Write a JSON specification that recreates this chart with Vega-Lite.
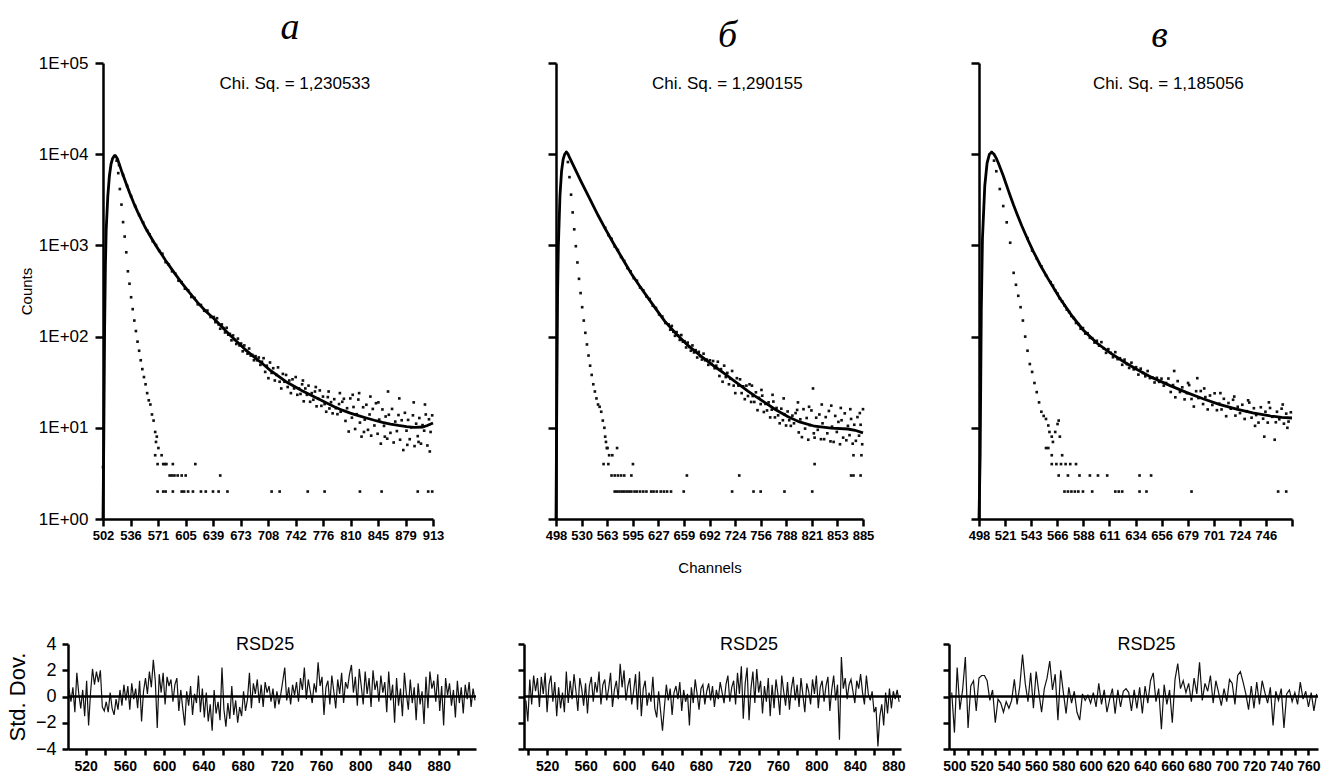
{
"$schema": "https://vega.github.io/schema/vega-lite/v6.json",
"padding": {"left": 6, "top": 9, "right": 0, "bottom": 0},
"background": "white",
"config": {
  "view": {"stroke": null},
  "axis": {"domainColor": "#000", "domainWidth": 2.5, "tickColor": "#000", "tickWidth": 2.5, "labelColor": "#000", "titleColor": "#000", "grid": false, "labelFont": "Liberation Sans", "titleFont": "Liberation Sans", "titleFontWeight": "normal", "labelFlush": false, "labelOverlap": false}
},
"datasets": {
"fa": [{"c":502,"v":1},{"c":503,"v":8},{"c":504,"v":120},{"c":505,"v":600},{"c":506,"v":1500},{"c":508,"v":3500},{"c":510,"v":5800},{"c":512,"v":7800},{"c":514,"v":9000},{"c":516,"v":9550},{"c":517,"v":9600},{"c":518,"v":9500},{"c":520,"v":8900},{"c":525,"v":6600},{"c":530,"v":5000},{"c":535,"v":3800},{"c":540,"v":2950},{"c":545,"v":2350},{"c":550,"v":1900},{"c":555,"v":1550},{"c":560,"v":1300},{"c":565,"v":1096},{"c":570,"v":933},{"c":580,"v":684},{"c":590,"v":513},{"c":600,"v":389},{"c":610,"v":301},{"c":620,"v":236},{"c":630,"v":190},{"c":640,"v":158},{"c":650,"v":128},{"c":660,"v":104},{"c":670,"v":86},{"c":680,"v":71},{"c":690,"v":60},{"c":700,"v":51},{"c":710,"v":43},{"c":720,"v":37},{"c":730,"v":32},{"c":740,"v":28.5},{"c":750,"v":25.5},{"c":760,"v":23},{"c":770,"v":20.8},{"c":780,"v":18.8},{"c":790,"v":17},{"c":800,"v":15.6},{"c":810,"v":14.5},{"c":820,"v":13.6},{"c":830,"v":12.8},{"c":840,"v":12.1},{"c":850,"v":11.5},{"c":860,"v":11},{"c":870,"v":10.6},{"c":880,"v":10.3},{"c":890,"v":10.1},{"c":900,"v":10.2},{"c":906,"v":10.6},{"c":913,"v":11.3}],
"da": [{"c":502,"v":3.7},{"c":522,"v":7600},{"c":527,"v":5900},{"c":532,"v":4500},{"c":537,"v":3450},{"c":542,"v":2700},{"c":547,"v":2150},{"c":552,"v":1780},{"c":557,"v":1450},{"c":560,"v":1320},{"c":564,"v":1110},{"c":568,"v":1010},{"c":572,"v":870},{"c":576,"v":810},{"c":580,"v":655},{"c":584,"v":615},{"c":588,"v":520},{"c":592,"v":490},{"c":596,"v":410},{"c":600,"v":395},{"c":604,"v":335},{"c":608,"v":322},{"c":612,"v":272},{"c":616,"v":265},{"c":620,"v":226},{"c":624,"v":222},{"c":628,"v":192},{"c":632,"v":193},{"c":636,"v":164},{"c":640,"v":164},{"c":642,"v":144},{"c":644,"v":159},{"c":646,"v":136},{"c":648,"v":122},{"c":650,"v":136},{"c":652,"v":124},{"c":654,"v":111},{"c":656,"v":125},{"c":658,"v":105},{"c":660,"v":107},{"c":662,"v":91},{"c":664,"v":103},{"c":666,"v":92},{"c":668,"v":83},{"c":670,"v":95},{"c":672,"v":80},{"c":674,"v":84},{"c":676,"v":69},{"c":678,"v":80},{"c":680,"v":71},{"c":682,"v":65},{"c":684,"v":74},{"c":686,"v":62},{"c":688,"v":63},{"c":690,"v":55},{"c":692,"v":61},{"c":694,"v":55},{"c":696,"v":59},{"c":698,"v":49},{"c":700,"v":53},{"c":702,"v":58},{"c":704,"v":41},{"c":706,"v":48},{"c":708,"v":35},{"c":710,"v":52},{"c":712,"v":40},{"c":714,"v":45},{"c":716,"v":33},{"c":718,"v":38},{"c":720,"v":46},{"c":722,"v":32},{"c":724,"v":27},{"c":726,"v":39},{"c":728,"v":32},{"c":730,"v":38},{"c":732,"v":28},{"c":734,"v":33},{"c":736,"v":24},{"c":738,"v":34},{"c":740,"v":27},{"c":742,"v":36},{"c":744,"v":23},{"c":746,"v":27},{"c":748,"v":23.5},{"c":750,"v":30},{"c":751,"v":33},{"c":752,"v":19.5},{"c":754,"v":27},{"c":756,"v":23},{"c":758,"v":29},{"c":760,"v":19.3},{"c":762,"v":24},{"c":764,"v":20.3},{"c":766,"v":25},{"c":767,"v":28},{"c":768,"v":17.2},{"c":770,"v":20.8},{"c":772,"v":25.7},{"c":774,"v":17.4},{"c":776,"v":22},{"c":778,"v":18.2},{"c":780,"v":15},{"c":782,"v":21.7},{"c":783,"v":25},{"c":784,"v":16.3},{"c":786,"v":19.1},{"c":788,"v":14.4},{"c":790,"v":20.6},{"c":792,"v":16.4},{"c":794,"v":14.1},{"c":796,"v":18.2},{"c":797,"v":24},{"c":798,"v":15},{"c":800,"v":19.3},{"c":802,"v":20.8},{"c":804,"v":11.9},{"c":806,"v":16.4},{"c":808,"v":9.1},{"c":810,"v":21},{"c":812,"v":12.9},{"c":813,"v":23},{"c":814,"v":16.9},{"c":816,"v":9.7},{"c":818,"v":14.1},{"c":820,"v":20.4},{"c":821,"v":24},{"c":822,"v":11.4},{"c":824,"v":8},{"c":826,"v":16.8},{"c":827,"v":9},{"c":828,"v":12.3},{"c":830,"v":17.9},{"c":832,"v":9.5},{"c":834,"v":14},{"c":835,"v":22},{"c":836,"v":8.2},{"c":838,"v":16.1},{"c":840,"v":10.6},{"c":842,"v":18.6},{"c":844,"v":8.6},{"c":845,"v":19},{"c":846,"v":12.3},{"c":848,"v":6.7},{"c":850,"v":15.9},{"c":852,"v":10.5},{"c":853,"v":8},{"c":854,"v":13.3},{"c":856,"v":7.6},{"c":857,"v":25},{"c":858,"v":13.9},{"c":860,"v":8.8},{"c":862,"v":16.1},{"c":864,"v":6.9},{"c":866,"v":11.7},{"c":868,"v":9.2},{"c":870,"v":13.8},{"c":871,"v":21},{"c":872,"v":7.4},{"c":874,"v":12.1},{"c":876,"v":5.7},{"c":878,"v":14.6},{"c":880,"v":9.3},{"c":881,"v":6.5},{"c":882,"v":12.2},{"c":884,"v":7.5},{"c":886,"v":10.1},{"c":888,"v":13.7},{"c":889,"v":19},{"c":890,"v":6.3},{"c":892,"v":11.1},{"c":894,"v":8.1},{"c":895,"v":7},{"c":896,"v":12.8},{"c":898,"v":6.7},{"c":900,"v":10.7},{"c":902,"v":9.3},{"c":903,"v":18},{"c":904,"v":14},{"c":906,"v":6.4},{"c":908,"v":12.4},{"c":909,"v":5.5},{"c":910,"v":9},{"c":912,"v":13.7}],
"ia": [{"c":517,"v":9600},{"c":519,"v":8500},{"c":521,"v":6200},{"c":523,"v":4150},{"c":525,"v":2800},{"c":527,"v":1800},{"c":529,"v":1250},{"c":531,"v":840},{"c":533,"v":520},{"c":535,"v":380},{"c":537,"v":270},{"c":539,"v":200},{"c":541,"v":150},{"c":543,"v":115},{"c":545,"v":88},{"c":547,"v":70},{"c":549,"v":55},{"c":551,"v":44},{"c":553,"v":36},{"c":555,"v":30},{"c":557,"v":24},{"c":559,"v":20},{"c":561,"v":18},{"c":563,"v":14},{"c":565,"v":12},{"c":567,"v":9},{"c":569,"v":8},{"c":568,"v":7},{"c":571,"v":6},{"c":567,"v":5},{"c":575,"v":5},{"c":570,"v":4},{"c":577,"v":4},{"c":579,"v":4},{"c":581,"v":4},{"c":589,"v":4},{"c":617,"v":4},{"c":585,"v":3},{"c":588,"v":3},{"c":591,"v":3},{"c":595,"v":3},{"c":600,"v":3},{"c":605,"v":3},{"c":648,"v":3},{"c":570,"v":2},{"c":577,"v":2},{"c":580,"v":2},{"c":589,"v":2},{"c":600,"v":2},{"c":603,"v":2},{"c":608,"v":2},{"c":614,"v":2},{"c":624,"v":2},{"c":630,"v":2},{"c":639,"v":2},{"c":646,"v":2},{"c":657,"v":2},{"c":712,"v":2},{"c":722,"v":2},{"c":757,"v":2},{"c":778,"v":2},{"c":822,"v":2},{"c":849,"v":2},{"c":894,"v":2},{"c":907,"v":2},{"c":912,"v":2}],
"fb": [{"c":498,"v":1},{"c":499,"v":20},{"c":500,"v":300},{"c":501,"v":1000},{"c":503,"v":3500},{"c":505,"v":6500},{"c":507,"v":8800},{"c":509,"v":10000},{"c":511,"v":10500},{"c":513,"v":10100},{"c":515,"v":9230},{"c":520,"v":7500},{"c":525,"v":6100},{"c":530,"v":4950},{"c":540,"v":3310},{"c":551,"v":2140},{"c":560,"v":1530},{"c":570,"v":1070},{"c":580,"v":760},{"c":593,"v":490},{"c":603,"v":363},{"c":614,"v":266},{"c":625,"v":195},{"c":635,"v":148},{"c":650,"v":106},{"c":664,"v":80.5},{"c":680,"v":62},{"c":698,"v":47},{"c":710,"v":39.5},{"c":723,"v":32.5},{"c":740,"v":25.3},{"c":750,"v":22},{"c":761,"v":19},{"c":775,"v":15.8},{"c":790,"v":13.3},{"c":805,"v":11.6},{"c":824,"v":10.4},{"c":845,"v":9.9},{"c":866,"v":9.7},{"c":875,"v":9.4},{"c":885,"v":8.8}],
"db": [{"c":560,"v":1560},{"c":564,"v":1300},{"c":568,"v":1180},{"c":572,"v":975},{"c":576,"v":890},{"c":580,"v":745},{"c":584,"v":675},{"c":588,"v":565},{"c":592,"v":520},{"c":596,"v":438},{"c":600,"v":410},{"c":604,"v":345},{"c":608,"v":322},{"c":612,"v":276},{"c":616,"v":258},{"c":620,"v":218},{"c":624,"v":206},{"c":628,"v":175},{"c":632,"v":166},{"c":636,"v":141},{"c":640,"v":136},{"c":642,"v":119},{"c":644,"v":131},{"c":646,"v":113},{"c":648,"v":102},{"c":650,"v":112},{"c":652,"v":103},{"c":654,"v":92},{"c":656,"v":104},{"c":658,"v":88},{"c":660,"v":89},{"c":662,"v":76},{"c":664,"v":86},{"c":666,"v":77},{"c":668,"v":70},{"c":670,"v":80},{"c":672,"v":67},{"c":674,"v":71},{"c":676,"v":59},{"c":678,"v":68},{"c":680,"v":61},{"c":682,"v":56},{"c":684,"v":65},{"c":686,"v":55},{"c":688,"v":56},{"c":690,"v":49},{"c":692,"v":55},{"c":694,"v":50},{"c":696,"v":54},{"c":698,"v":45},{"c":700,"v":48},{"c":702,"v":53},{"c":704,"v":37},{"c":706,"v":44},{"c":708,"v":32},{"c":710,"v":48},{"c":712,"v":36},{"c":714,"v":40},{"c":716,"v":30},{"c":718,"v":34.5},{"c":720,"v":42},{"c":722,"v":29},{"c":724,"v":24},{"c":726,"v":35},{"c":728,"v":29},{"c":730,"v":34},{"c":732,"v":24},{"c":734,"v":28.5},{"c":736,"v":20.6},{"c":738,"v":29},{"c":740,"v":22.3},{"c":742,"v":30},{"c":744,"v":19.2},{"c":745,"v":29},{"c":746,"v":22.3},{"c":748,"v":19.2},{"c":750,"v":24.5},{"c":752,"v":15.6},{"c":754,"v":21.3},{"c":756,"v":18.2},{"c":757,"v":26},{"c":758,"v":22.5},{"c":760,"v":14.9},{"c":762,"v":18.3},{"c":764,"v":15.5},{"c":766,"v":19},{"c":768,"v":13},{"c":770,"v":15.8},{"c":771,"v":23},{"c":772,"v":19.4},{"c":774,"v":13},{"c":776,"v":16.5},{"c":778,"v":13.7},{"c":780,"v":11.2},{"c":782,"v":16.2},{"c":784,"v":12.1},{"c":785,"v":21},{"c":786,"v":14.1},{"c":788,"v":10.6},{"c":790,"v":15.1},{"c":792,"v":12.1},{"c":794,"v":10.5},{"c":796,"v":13.6},{"c":798,"v":11.2},{"c":800,"v":14.5},{"c":802,"v":15.7},{"c":803,"v":19},{"c":804,"v":8.9},{"c":806,"v":12.4},{"c":808,"v":7.9},{"c":810,"v":16},{"c":812,"v":9.8},{"c":814,"v":12.8},{"c":816,"v":7.4},{"c":817,"v":17},{"c":818,"v":10.7},{"c":820,"v":15.5},{"c":822,"v":27},{"c":823,"v":8.7},{"c":824,"v":7.8},{"c":826,"v":12.9},{"c":828,"v":9.5},{"c":830,"v":14},{"c":832,"v":7.5},{"c":833,"v":18},{"c":834,"v":11.2},{"c":836,"v":7.5},{"c":838,"v":13.1},{"c":840,"v":8.7},{"c":842,"v":15.3},{"c":844,"v":7.1},{"c":845,"v":17.5},{"c":846,"v":10.3},{"c":848,"v":7},{"c":850,"v":13.5},{"c":852,"v":9},{"c":854,"v":11.6},{"c":856,"v":6.6},{"c":857,"v":16.5},{"c":858,"v":12.1},{"c":860,"v":7.8},{"c":862,"v":14.4},{"c":864,"v":7.3},{"c":866,"v":10.5},{"c":868,"v":8.3},{"c":869,"v":16},{"c":870,"v":12.5},{"c":872,"v":6.7},{"c":874,"v":10.8},{"c":876,"v":7.2},{"c":878,"v":13.1},{"c":880,"v":8.2},{"c":881,"v":14.5},{"c":882,"v":10.8},{"c":884,"v":6.6},{"c":885,"v":16}],
"ib": [{"c":511,"v":10500},{"c":513,"v":8200},{"c":515,"v":5600},{"c":517,"v":3600},{"c":519,"v":2300},{"c":521,"v":1500},{"c":523,"v":980},{"c":525,"v":650},{"c":527,"v":430},{"c":529,"v":300},{"c":531,"v":210},{"c":533,"v":150},{"c":535,"v":110},{"c":537,"v":82},{"c":539,"v":62},{"c":541,"v":48},{"c":543,"v":38},{"c":545,"v":30},{"c":547,"v":25},{"c":549,"v":21},{"c":551,"v":18},{"c":553,"v":17},{"c":555,"v":15},{"c":557,"v":12},{"c":559,"v":10},{"c":560,"v":8},{"c":561,"v":7},{"c":562,"v":6},{"c":563,"v":6},{"c":575,"v":6},{"c":565,"v":5},{"c":569,"v":5},{"c":558,"v":4},{"c":564,"v":4},{"c":595,"v":4},{"c":824,"v":4},{"c":568,"v":3},{"c":572,"v":3},{"c":576,"v":3},{"c":580,"v":3},{"c":584,"v":3},{"c":593,"v":3},{"c":663,"v":3},{"c":729,"v":3},{"c":870,"v":3},{"c":873,"v":3},{"c":882,"v":3},{"c":873,"v":5},{"c":883,"v":5},{"c":572,"v":2},{"c":575,"v":2},{"c":578,"v":2},{"c":581,"v":2},{"c":584,"v":2},{"c":587,"v":2},{"c":590,"v":2},{"c":593,"v":2},{"c":597,"v":2},{"c":600,"v":2},{"c":604,"v":2},{"c":608,"v":2},{"c":612,"v":2},{"c":618,"v":2},{"c":621,"v":2},{"c":625,"v":2},{"c":630,"v":2},{"c":634,"v":2},{"c":638,"v":2},{"c":643,"v":2},{"c":659,"v":2},{"c":720,"v":2},{"c":747,"v":2},{"c":756,"v":2},{"c":786,"v":2},{"c":821,"v":2}],
"fc": [{"c":498,"v":1},{"c":499,"v":5},{"c":500,"v":200},{"c":501,"v":1200},{"c":503,"v":4500},{"c":505,"v":8000},{"c":507,"v":10000},{"c":509,"v":10500},{"c":511,"v":10000},{"c":513,"v":9020},{"c":515,"v":7850},{"c":517,"v":6760},{"c":519,"v":5790},{"c":521,"v":4900},{"c":523,"v":4140},{"c":525,"v":3510},{"c":528,"v":2750},{"c":531,"v":2190},{"c":535,"v":1640},{"c":540,"v":1175},{"c":545,"v":861},{"c":551,"v":610},{"c":558,"v":427},{"c":568,"v":263},{"c":578,"v":172},{"c":588,"v":119},{"c":600,"v":85},{"c":611,"v":67},{"c":622,"v":54.3},{"c":634,"v":44.2},{"c":648,"v":35.5},{"c":663,"v":29.2},{"c":678,"v":24.3},{"c":692,"v":20.8},{"c":706,"v":18.1},{"c":721,"v":16},{"c":735,"v":14.6},{"c":750,"v":13.5},{"c":760,"v":13},{"c":769,"v":12.8}],
"dc": [{"c":540,"v":1200},{"c":544,"v":880},{"c":548,"v":720},{"c":552,"v":590},{"c":556,"v":470},{"c":560,"v":395},{"c":562,"v":362},{"c":564,"v":320},{"c":566,"v":296},{"c":568,"v":262},{"c":570,"v":244},{"c":572,"v":220},{"c":574,"v":198},{"c":576,"v":186},{"c":578,"v":168},{"c":580,"v":160},{"c":582,"v":141},{"c":584,"v":137},{"c":586,"v":122},{"c":588,"v":124},{"c":590,"v":108},{"c":592,"v":109},{"c":594,"v":97},{"c":596,"v":96},{"c":598,"v":86},{"c":600,"v":90},{"c":602,"v":79.5},{"c":604,"v":86.9},{"c":606,"v":74.3},{"c":608,"v":66.4},{"c":610,"v":72.8},{"c":612,"v":66.4},{"c":614,"v":59.4},{"c":616,"v":67.5},{"c":618,"v":56.6},{"c":620,"v":57.9},{"c":622,"v":49.1},{"c":624,"v":55.9},{"c":626,"v":49.9},{"c":628,"v":45.3},{"c":630,"v":51.8},{"c":632,"v":43.7},{"c":634,"v":46.2},{"c":636,"v":38.3},{"c":638,"v":44.5},{"c":640,"v":39.9},{"c":642,"v":36.7},{"c":644,"v":41.9},{"c":646,"v":35.1},{"c":648,"v":35.7},{"c":650,"v":31.4},{"c":652,"v":35.3},{"c":654,"v":31.9},{"c":656,"v":34.6},{"c":658,"v":29},{"c":660,"v":31},{"c":662,"v":34.7},{"c":664,"v":24.7},{"c":666,"v":29.4},{"c":667,"v":42},{"c":668,"v":21.6},{"c":670,"v":32.5},{"c":672,"v":24.7},{"c":674,"v":27.8},{"c":676,"v":20.5},{"c":678,"v":24},{"c":679,"v":31},{"c":680,"v":29.4},{"c":682,"v":20.7},{"c":684,"v":17.1},{"c":686,"v":25.2},{"c":687,"v":35},{"c":688,"v":21.2},{"c":690,"v":25.3},{"c":692,"v":18.2},{"c":693,"v":27},{"c":694,"v":21.7},{"c":696,"v":15.9},{"c":698,"v":22.6},{"c":700,"v":17.8},{"c":702,"v":23.9},{"c":704,"v":15.6},{"c":706,"v":18.4},{"c":707,"v":24},{"c":708,"v":15.9},{"c":710,"v":20.8},{"c":712,"v":13.4},{"c":714,"v":18.7},{"c":716,"v":16.2},{"c":718,"v":20.3},{"c":719,"v":22},{"c":720,"v":13.6},{"c":722,"v":17},{"c":724,"v":14.5},{"c":726,"v":17.9},{"c":728,"v":12.5},{"c":730,"v":15.2},{"c":731,"v":20},{"c":732,"v":18.9},{"c":734,"v":12.9},{"c":736,"v":16.4},{"c":737,"v":10.5},{"c":738,"v":13.8},{"c":740,"v":11.4},{"c":742,"v":16.8},{"c":744,"v":12.6},{"c":745,"v":8},{"c":746,"v":15},{"c":748,"v":11.4},{"c":749,"v":19},{"c":750,"v":16.5},{"c":752,"v":13.2},{"c":754,"v":7.4},{"c":755,"v":11.5},{"c":756,"v":15},{"c":758,"v":12.4},{"c":760,"v":16.2},{"c":761,"v":18},{"c":762,"v":11.1},{"c":764,"v":14.3},{"c":765,"v":10},{"c":766,"v":11.7},{"c":768,"v":14.8}],
"ic": [{"c":509,"v":10500},{"c":511,"v":8500},{"c":513,"v":6500},{"c":516,"v":4150},{"c":519,"v":2700},{"c":522,"v":1790},{"c":525,"v":1070},{"c":528,"v":500},{"c":530,"v":370},{"c":532,"v":280},{"c":534,"v":210},{"c":536,"v":150},{"c":538,"v":100},{"c":540,"v":70},{"c":542,"v":50},{"c":544,"v":41},{"c":546,"v":31},{"c":548,"v":24.6},{"c":550,"v":19},{"c":552,"v":15},{"c":554,"v":13.5},{"c":556,"v":12.5},{"c":558,"v":10.6},{"c":559,"v":9},{"c":561,"v":8},{"c":562,"v":7},{"c":564,"v":9},{"c":566,"v":11},{"c":567,"v":12},{"c":568,"v":8},{"c":556,"v":6},{"c":558,"v":6},{"c":561,"v":5},{"c":570,"v":5},{"c":561,"v":4},{"c":565,"v":4},{"c":569,"v":4},{"c":573,"v":4},{"c":577,"v":4},{"c":582,"v":4},{"c":567,"v":3},{"c":575,"v":3},{"c":585,"v":3},{"c":594,"v":3},{"c":601,"v":3},{"c":609,"v":3},{"c":637,"v":3},{"c":647,"v":3},{"c":572,"v":2},{"c":575,"v":2},{"c":578,"v":2},{"c":581,"v":2},{"c":584,"v":2},{"c":588,"v":2},{"c":596,"v":2},{"c":616,"v":2},{"c":619,"v":2},{"c":622,"v":2},{"c":637,"v":2},{"c":643,"v":2},{"c":682,"v":2},{"c":757,"v":2},{"c":764,"v":2}],
"ra": [{"c":503,"r":0.6},{"c":505,"r":-0.4},{"c":507,"r":0.7},{"c":509,"r":-1.2},{"c":511,"r":1.8},{"c":513,"r":0.2},{"c":515,"r":-0.9},{"c":517,"r":0.5},{"c":519,"r":-1.5},{"c":521,"r":1.2},{"c":523,"r":-2.2},{"c":525,"r":0.3},{"c":527,"r":2.1},{"c":529,"r":0.9},{"c":531,"r":1.9},{"c":533,"r":1.1},{"c":535,"r":2.0},{"c":537,"r":-0.8},{"c":539,"r":-1.1},{"c":541,"r":-0.4},{"c":543,"r":-1.2},{"c":545,"r":0.3},{"c":547,"r":-0.9},{"c":549,"r":-1.4},{"c":551,"r":-0.2},{"c":553,"r":-1.0},{"c":555,"r":0.5},{"c":557,"r":-0.7},{"c":559,"r":0.9},{"c":561,"r":-0.3},{"c":563,"r":0.8},{"c":565,"r":-1.0},{"c":567,"r":1.0},{"c":569,"r":-0.2},{"c":571,"r":0.6},{"c":573,"r":-0.9},{"c":575,"r":1.2},{"c":577,"r":-1.9},{"c":579,"r":0.4},{"c":581,"r":1.4},{"c":583,"r":0.2},{"c":585,"r":1.9},{"c":587,"r":0.7},{"c":589,"r":2.8},{"c":591,"r":1.2},{"c":593,"r":-2.4},{"c":595,"r":1.7},{"c":597,"r":0.3},{"c":599,"r":1.8},{"c":601,"r":-0.6},{"c":603,"r":1.5},{"c":605,"r":0.8},{"c":607,"r":1.3},{"c":609,"r":-0.4},{"c":611,"r":0.9},{"c":613,"r":1.4},{"c":615,"r":-1.1},{"c":617,"r":0.5},{"c":619,"r":-0.9},{"c":621,"r":-2.2},{"c":623,"r":0.4},{"c":625,"r":-0.7},{"c":627,"r":0.8},{"c":629,"r":-1.4},{"c":631,"r":0.2},{"c":633,"r":-0.5},{"c":635,"r":1.6},{"c":637,"r":-1.2},{"c":639,"r":0.6},{"c":641,"r":-1.6},{"c":643,"r":0.3},{"c":645,"r":-1.9},{"c":647,"r":-0.6},{"c":649,"r":-2.6},{"c":651,"r":0.5},{"c":653,"r":-1.3},{"c":655,"r":-0.4},{"c":657,"r":-1.8},{"c":659,"r":2.2},{"c":661,"r":-1.0},{"c":663,"r":-2.3},{"c":665,"r":-0.5},{"c":667,"r":-1.7},{"c":669,"r":0.8},{"c":671,"r":-1.4},{"c":673,"r":-0.3},{"c":675,"r":-2.0},{"c":677,"r":-0.8},{"c":679,"r":-1.5},{"c":681,"r":0.4},{"c":683,"r":-1.1},{"c":685,"r":-0.2},{"c":687,"r":1.8},{"c":689,"r":-0.9},{"c":691,"r":1.0},{"c":693,"r":0.2},{"c":695,"r":1.3},{"c":697,"r":-0.5},{"c":699,"r":0.9},{"c":701,"r":-0.8},{"c":703,"r":1.1},{"c":705,"r":0.3},{"c":707,"r":0.8},{"c":709,"r":-0.4},{"c":711,"r":0.6},{"c":713,"r":-0.9},{"c":715,"r":0.4},{"c":717,"r":-0.6},{"c":719,"r":0.2},{"c":721,"r":1.2},{"c":723,"r":2.2},{"c":725,"r":-0.3},{"c":727,"r":0.7},{"c":729,"r":-0.6},{"c":731,"r":0.9},{"c":733,"r":0.1},{"c":735,"r":1.1},{"c":737,"r":-0.4},{"c":739,"r":1.4},{"c":741,"r":0.5},{"c":743,"r":2.2},{"c":745,"r":-0.2},{"c":747,"r":1.3},{"c":749,"r":0.4},{"c":751,"r":-0.5},{"c":753,"r":1.0},{"c":755,"r":0.3},{"c":757,"r":2.6},{"c":759,"r":0.8},{"c":761,"r":1.5},{"c":763,"r":-1.4},{"c":765,"r":0.7},{"c":767,"r":1.2},{"c":769,"r":-0.6},{"c":771,"r":1.6},{"c":773,"r":0.4},{"c":775,"r":-0.9},{"c":777,"r":1.3},{"c":779,"r":0.2},{"c":781,"r":1.8},{"c":783,"r":-0.5},{"c":785,"r":1.1},{"c":787,"r":0.6},{"c":789,"r":1.7},{"c":791,"r":2.4},{"c":793,"r":0.3},{"c":795,"r":1.5},{"c":797,"r":-0.7},{"c":799,"r":2.1},{"c":801,"r":0.8},{"c":803,"r":-0.6},{"c":805,"r":1.9},{"c":807,"r":0.2},{"c":809,"r":1.4},{"c":811,"r":-0.8},{"c":813,"r":2.0},{"c":815,"r":0.5},{"c":817,"r":1.2},{"c":819,"r":-0.4},{"c":821,"r":1.6},{"c":823,"r":0.3},{"c":825,"r":1.1},{"c":827,"r":-1.2},{"c":829,"r":1.9},{"c":831,"r":-0.3},{"c":833,"r":0.9},{"c":835,"r":-2.0},{"c":837,"r":1.4},{"c":839,"r":-0.7},{"c":841,"r":0.6},{"c":843,"r":-1.5},{"c":845,"r":1.8},{"c":847,"r":0.2},{"c":849,"r":-1.0},{"c":851,"r":1.3},{"c":853,"r":-0.5},{"c":855,"r":0.7},{"c":857,"r":-1.8},{"c":859,"r":1.0},{"c":861,"r":-0.6},{"c":863,"r":0.4},{"c":865,"r":-2.1},{"c":867,"r":1.5},{"c":869,"r":-0.9},{"c":871,"r":1.9},{"c":873,"r":0.6},{"c":875,"r":1.2},{"c":877,"r":-0.4},{"c":879,"r":1.7},{"c":881,"r":-1.1},{"c":883,"r":0.8},{"c":885,"r":-2.2},{"c":887,"r":1.4},{"c":889,"r":0.1},{"c":891,"r":1.0},{"c":893,"r":-0.7},{"c":895,"r":0.5},{"c":897,"r":-1.6},{"c":899,"r":1.2},{"c":901,"r":-0.5},{"c":903,"r":0.7},{"c":905,"r":-1.3},{"c":907,"r":0.9},{"c":909,"r":-0.2},{"c":911,"r":1.1},{"c":913,"r":-0.8},{"c":915,"r":0.6},{"c":917,"r":-0.3}],
"rb": [{"c":498,"r":-0.3},{"c":500,"r":-1.9},{"c":502,"r":1.3},{"c":504,"r":-0.6},{"c":506,"r":1.6},{"c":508,"r":0.4},{"c":510,"r":1.4},{"c":512,"r":-0.8},{"c":514,"r":1.5},{"c":516,"r":0.2},{"c":518,"r":1.8},{"c":520,"r":-1.2},{"c":522,"r":0.9},{"c":524,"r":1.6},{"c":526,"r":-0.4},{"c":528,"r":1.1},{"c":530,"r":-1.5},{"c":532,"r":0.7},{"c":534,"r":-0.9},{"c":536,"r":0.3},{"c":538,"r":-1.2},{"c":540,"r":1.9},{"c":542,"r":-0.5},{"c":544,"r":1.2},{"c":546,"r":-0.2},{"c":548,"r":1.7},{"c":550,"r":0.4},{"c":552,"r":-1.1},{"c":554,"r":1.4},{"c":556,"r":0.6},{"c":558,"r":-0.7},{"c":560,"r":1.0},{"c":562,"r":-1.3},{"c":564,"r":0.8},{"c":566,"r":1.5},{"c":568,"r":-0.4},{"c":570,"r":1.1},{"c":572,"r":0.3},{"c":574,"r":1.9},{"c":576,"r":-0.6},{"c":578,"r":0.9},{"c":580,"r":1.3},{"c":582,"r":-0.3},{"c":584,"r":0.6},{"c":586,"r":1.8},{"c":588,"r":-0.8},{"c":590,"r":0.5},{"c":592,"r":1.2},{"c":594,"r":-0.2},{"c":596,"r":2.5},{"c":598,"r":0.7},{"c":600,"r":2.0},{"c":602,"r":-0.3},{"c":604,"r":0.8},{"c":606,"r":1.4},{"c":608,"r":-0.6},{"c":610,"r":0.4},{"c":612,"r":1.7},{"c":614,"r":-1.0},{"c":616,"r":1.9},{"c":618,"r":-1.5},{"c":620,"r":0.6},{"c":622,"r":1.2},{"c":624,"r":-0.7},{"c":626,"r":0.3},{"c":628,"r":-0.4},{"c":630,"r":1.5},{"c":632,"r":-0.9},{"c":634,"r":-1.6},{"c":636,"r":0.4},{"c":638,"r":-1.1},{"c":640,"r":-2.6},{"c":642,"r":-0.8},{"c":644,"r":0.9},{"c":646,"r":-0.3},{"c":648,"r":0.6},{"c":650,"r":-1.4},{"c":652,"r":0.3},{"c":654,"r":0.8},{"c":656,"r":-0.2},{"c":658,"r":1.1},{"c":660,"r":-1.1},{"c":662,"r":0.5},{"c":664,"r":-0.4},{"c":666,"r":0.2},{"c":668,"r":-2.2},{"c":670,"r":0.7},{"c":672,"r":-0.5},{"c":674,"r":1.3},{"c":676,"r":0.2},{"c":678,"r":-1.0},{"c":680,"r":0.6},{"c":682,"r":0.9},{"c":684,"r":-0.6},{"c":686,"r":0.4},{"c":688,"r":1.0},{"c":690,"r":-0.3},{"c":692,"r":0.8},{"c":694,"r":-0.8},{"c":696,"r":0.5},{"c":698,"r":-0.2},{"c":700,"r":1.1},{"c":702,"r":0.3},{"c":704,"r":-0.5},{"c":706,"r":0.9},{"c":708,"r":1.6},{"c":710,"r":-0.4},{"c":712,"r":0.7},{"c":714,"r":1.2},{"c":716,"r":-0.6},{"c":718,"r":1.8},{"c":720,"r":0.2},{"c":722,"r":2.3},{"c":724,"r":-1.7},{"c":726,"r":1.0},{"c":728,"r":2.2},{"c":730,"r":-1.8},{"c":732,"r":0.6},{"c":734,"r":1.9},{"c":736,"r":-0.5},{"c":738,"r":2.1},{"c":740,"r":0.3},{"c":742,"r":1.2},{"c":744,"r":-1.3},{"c":746,"r":0.8},{"c":748,"r":-0.4},{"c":750,"r":1.4},{"c":752,"r":-1.5},{"c":754,"r":0.9},{"c":756,"r":-0.9},{"c":758,"r":1.3},{"c":760,"r":0.2},{"c":762,"r":-1.4},{"c":764,"r":1.6},{"c":766,"r":0.4},{"c":768,"r":-0.7},{"c":770,"r":1.1},{"c":772,"r":-1.0},{"c":774,"r":0.6},{"c":776,"r":1.5},{"c":778,"r":-0.3},{"c":780,"r":0.9},{"c":782,"r":-0.8},{"c":784,"r":1.4},{"c":786,"r":0.1},{"c":788,"r":-1.2},{"c":790,"r":1.0},{"c":792,"r":0.4},{"c":794,"r":-0.6},{"c":796,"r":1.3},{"c":798,"r":0.2},{"c":800,"r":1.6},{"c":802,"r":-0.9},{"c":804,"r":0.7},{"c":806,"r":1.2},{"c":808,"r":-0.4},{"c":810,"r":0.8},{"c":812,"r":1.5},{"c":814,"r":-1.1},{"c":816,"r":0.5},{"c":818,"r":1.6},{"c":820,"r":-0.3},{"c":822,"r":0.9},{"c":824,"r":-3.3},{"c":826,"r":3.0},{"c":828,"r":0.6},{"c":830,"r":1.4},{"c":832,"r":-0.2},{"c":834,"r":0.9},{"c":836,"r":1.3},{"c":838,"r":0.4},{"c":840,"r":-0.5},{"c":842,"r":1.2},{"c":844,"r":0.6},{"c":846,"r":1.7},{"c":848,"r":0.3},{"c":850,"r":-0.6},{"c":852,"r":1.6},{"c":854,"r":0.2},{"c":856,"r":-0.3},{"c":858,"r":0.4},{"c":860,"r":-1.2},{"c":862,"r":-0.8},{"c":864,"r":-3.8},{"c":866,"r":-1.5},{"c":868,"r":-0.6},{"c":870,"r":-2.2},{"c":872,"r":0.3},{"c":874,"r":-1.3},{"c":876,"r":0.6},{"c":878,"r":-0.9},{"c":880,"r":0.4},{"c":882,"r":-0.2},{"c":884,"r":0.5},{"c":886,"r":-0.4}],
"rc": [{"c":498,"r":0.3},{"c":500,"r":-2.75},{"c":502,"r":2.2},{"c":504,"r":-1.0},{"c":506,"r":0.5},{"c":508,"r":3.0},{"c":510,"r":-2.4},{"c":512,"r":0.8},{"c":514,"r":1.2},{"c":516,"r":-1.1},{"c":518,"r":1.4},{"c":520,"r":1.6},{"c":522,"r":1.6},{"c":524,"r":1.2},{"c":526,"r":-0.3},{"c":528,"r":0.5},{"c":530,"r":-2.0},{"c":532,"r":-0.2},{"c":534,"r":-0.5},{"c":536,"r":-1.2},{"c":538,"r":-0.4},{"c":540,"r":-0.9},{"c":542,"r":-0.3},{"c":544,"r":1.3},{"c":546,"r":-0.6},{"c":548,"r":0.8},{"c":550,"r":3.2},{"c":552,"r":1.0},{"c":554,"r":-0.4},{"c":556,"r":1.8},{"c":558,"r":-0.9},{"c":560,"r":1.9},{"c":562,"r":0.3},{"c":564,"r":-1.2},{"c":566,"r":0.6},{"c":568,"r":1.4},{"c":570,"r":2.7},{"c":572,"r":0.5},{"c":574,"r":1.7},{"c":576,"r":-1.8},{"c":578,"r":2.0},{"c":580,"r":0.3},{"c":582,"r":-1.3},{"c":584,"r":0.7},{"c":586,"r":-0.5},{"c":588,"r":0.4},{"c":590,"r":-1.2},{"c":592,"r":-1.8},{"c":594,"r":0.2},{"c":596,"r":-0.3},{"c":598,"r":0.1},{"c":600,"r":-0.5},{"c":602,"r":0.3},{"c":604,"r":-0.8},{"c":606,"r":1.0},{"c":608,"r":-0.6},{"c":610,"r":0.5},{"c":612,"r":-1.2},{"c":614,"r":-0.2},{"c":616,"r":0.6},{"c":618,"r":-1.3},{"c":620,"r":0.5},{"c":622,"r":-0.8},{"c":624,"r":0.4},{"c":626,"r":0.6},{"c":628,"r":0.3},{"c":630,"r":-1.1},{"c":632,"r":0.5},{"c":634,"r":-0.9},{"c":636,"r":0.7},{"c":638,"r":-1.3},{"c":640,"r":0.8},{"c":642,"r":-0.5},{"c":644,"r":1.2},{"c":646,"r":1.8},{"c":648,"r":-0.4},{"c":650,"r":0.6},{"c":652,"r":-2.5},{"c":654,"r":0.9},{"c":656,"r":-0.6},{"c":658,"r":0.5},{"c":660,"r":-2.0},{"c":662,"r":1.3},{"c":664,"r":2.5},{"c":666,"r":0.6},{"c":668,"r":1.2},{"c":670,"r":0.3},{"c":672,"r":1.0},{"c":674,"r":-0.4},{"c":676,"r":1.4},{"c":678,"r":0.2},{"c":680,"r":2.6},{"c":682,"r":-0.3},{"c":684,"r":1.0},{"c":686,"r":0.4},{"c":688,"r":1.6},{"c":690,"r":-0.5},{"c":692,"r":1.2},{"c":694,"r":0.3},{"c":696,"r":-0.7},{"c":698,"r":0.6},{"c":700,"r":-0.4},{"c":702,"r":1.3},{"c":704,"r":1.0},{"c":706,"r":-0.6},{"c":708,"r":1.6},{"c":710,"r":1.9},{"c":712,"r":1.1},{"c":714,"r":0.2},{"c":716,"r":-1.0},{"c":718,"r":0.8},{"c":720,"r":-0.9},{"c":722,"r":1.1},{"c":724,"r":-0.6},{"c":726,"r":1.2},{"c":728,"r":0.3},{"c":730,"r":-0.5},{"c":732,"r":0.7},{"c":734,"r":-2.2},{"c":736,"r":0.4},{"c":738,"r":-0.3},{"c":740,"r":0.6},{"c":742,"r":-2.4},{"c":744,"r":0.2},{"c":746,"r":0.5},{"c":748,"r":-0.4},{"c":750,"r":0.3},{"c":752,"r":-0.6},{"c":754,"r":1.1},{"c":756,"r":-0.2},{"c":758,"r":0.4},{"c":760,"r":-0.8},{"c":762,"r":0.3},{"c":764,"r":-1.1},{"c":766,"r":0.2}]
},
"spacing": 60,
"vconcat": [
 {"bounds": "flush", "spacing": 34, "hconcat": [
   {"width": 1, "height": 456, "data": {"values": [{"c": 0}]}, "mark": {"type": "point", "opacity": 0}, "encoding": {}},
   {"bounds": "flush", "spacing": 123, "hconcat": [
     {"width": 330, "height": 456,
      "title": {"text": "а", "font": "Liberation Serif", "fontStyle": "italic", "fontWeight": "normal", "fontSize": 38, "color": "#000", "dx": 22, "offset": 7},
      "encoding": {
        "x": {"field": "c", "type": "quantitative", "scale": {"domain": [502, 913], "nice": false, "zero": false},
              "axis": {"values": [502, 536.25, 570.5, 604.75, 639, 673.25, 707.5, 741.75, 776, 810.25, 844.5, 878.75, 913], "format": ".0f", "title": null, "labelFontWeight": "bold", "labelFontSize": 13, "tickSize": 7, "labelPadding": 3}},
        "y": {"field": "v", "type": "quantitative", "scale": {"type": "log", "domain": [1, 100000], "nice": false},
              "axis": {"values": [1, 10, 100, 1000, 10000, 100000], "labelExpr": "'1E+0' + round(log(datum.value) / LN10)", "labelFontSize": 17, "tickSize": 8, "labelPadding": 7, "title": "Counts", "titleFontSize": 15, "titlePadding": 4}}
      },
      "layer": [
        {"data": {"name": "ia"}, "mark": {"type": "square", "size": 7, "color": "#111", "opacity": 1}},
        {"data": {"name": "da"}, "mark": {"type": "square", "size": 7, "color": "#111", "opacity": 1}},
        {"data": {"name": "fa"}, "mark": {"type": "line", "color": "#000", "strokeWidth": 2.8}},
        {"data": {"values": [{"c": 741, "v": 58900, "t": "Chi. Sq. = 1,230533"}]}, "mark": {"type": "text", "font": "Liberation Sans", "fontSize": 17, "color": "#000"}, "encoding": {"text": {"field": "t"}}}
      ]
     },
     {"bounds": "flush", "spacing": 116, "hconcat": [
       {"width": 307, "height": 456,
        "title": {"text": "б", "font": "Liberation Serif", "fontStyle": "italic", "fontWeight": "normal", "fontSize": 38, "color": "#000", "dx": 18, "offset": 7},
        "encoding": {
          "x": {"field": "c", "type": "quantitative", "scale": {"domain": [498, 885], "nice": false, "zero": false},
                "axis": {"values": [498, 530.25, 562.5, 594.75, 627, 659.25, 691.5, 723.75, 756, 788.25, 820.5, 852.75, 885], "format": ".0f", "title": "Channels", "titleFontSize": 15, "titlePadding": 18, "labelFontWeight": "bold", "labelFontSize": 13, "tickSize": 7, "labelPadding": 3}},
          "y": {"field": "v", "type": "quantitative", "scale": {"type": "log", "domain": [1, 100000], "nice": false},
                "axis": {"values": [1, 10, 100, 1000, 10000, 100000], "labels": false, "tickSize": 8, "title": null}}
        },
        "layer": [
          {"data": {"name": "ib"}, "mark": {"type": "square", "size": 7, "color": "#111", "opacity": 1}},
          {"data": {"name": "db"}, "mark": {"type": "square", "size": 7, "color": "#111", "opacity": 1}},
          {"data": {"name": "fb"}, "mark": {"type": "line", "color": "#000", "strokeWidth": 2.8}},
          {"data": {"values": [{"c": 714, "v": 58900, "t": "Chi. Sq. = 1,290155"}]}, "mark": {"type": "text", "font": "Liberation Sans", "fontSize": 17, "color": "#000"}, "encoding": {"text": {"field": "t"}}}
        ]
       },
       {"width": 313, "height": 456,
        "title": {"text": "в", "font": "Liberation Serif", "fontStyle": "italic", "fontWeight": "normal", "fontSize": 38, "color": "#000", "dx": 24, "offset": 7},
        "encoding": {
          "x": {"field": "c", "type": "quantitative", "scale": {"domain": [498, 769], "nice": false, "zero": false},
                "axis": {"values": [498, 520.5833, 543.1667, 565.75, 588.3333, 610.9167, 633.5, 656.0833, 678.6667, 701.25, 723.8333, 746.4167, 769], "labelExpr": "datum.value > 768 ? '' : format(datum.value, '.0f')", "title": null, "labelFontWeight": "bold", "labelFontSize": 13, "tickSize": 7, "labelPadding": 3}},
          "y": {"field": "v", "type": "quantitative", "scale": {"type": "log", "domain": [1, 100000], "nice": false},
                "axis": {"values": [1, 10, 100, 1000, 10000, 100000], "labels": false, "tickSize": 8, "title": null}}
        },
        "layer": [
          {"data": {"name": "ic"}, "mark": {"type": "square", "size": 7, "color": "#111", "opacity": 1}},
          {"data": {"name": "dc"}, "mark": {"type": "square", "size": 7, "color": "#111", "opacity": 1}},
          {"data": {"name": "fc"}, "mark": {"type": "line", "color": "#000", "strokeWidth": 2.8}},
          {"data": {"values": [{"c": 662, "v": 58900, "t": "Chi. Sq. = 1,185056"}]}, "mark": {"type": "text", "font": "Liberation Sans", "fontSize": 17, "color": "#000"}, "encoding": {"text": {"field": "t"}}}
        ]
       }
     ]}
   ]}
 ]},
 {"bounds": "flush", "spacing": 48, "hconcat": [
   {"width": 408, "height": 105,
    "encoding": {
      "x": {"field": "c", "type": "quantitative", "scale": {"domain": [502, 918], "nice": false, "zero": false},
            "axis": {"values": [520, 540, 560, 580, 600, 620, 640, 660, 680, 700, 720, 740, 760, 780, 800, 820, 840, 860, 880, 900], "labelExpr": "datum.value % 40 == 0 ? datum.label : ''", "title": null, "labelFontWeight": "bold", "labelFontSize": 14, "tickSize": 6, "labelPadding": 4}},
      "y": {"field": "r", "type": "quantitative", "scale": {"domain": [-4, 4], "nice": false},
            "axis": {"values": [-4, -2, 0, 2, 4], "labelFontSize": 18, "tickSize": 6, "labelPadding": 6, "title": "Std. Dov.", "titleFontSize": 22, "titlePadding": 6}}
    },
    "layer": [
      {"data": {"name": "ra"}, "mark": {"type": "line", "color": "#111", "strokeWidth": 1.2}},
      {"data": {"values": [{"c": 502, "r": 0}, {"c": 918, "r": 0}]}, "mark": {"type": "line", "color": "#000", "strokeWidth": 2.5}},
      {"data": {"values": [{"c": 703, "r": 3.9, "t": "RSD25"}]}, "mark": {"type": "text", "font": "Liberation Sans", "fontSize": 18, "color": "#000"}, "encoding": {"text": {"field": "t"}}}
    ]
   },
   {"width": 377, "height": 105,
    "encoding": {
      "x": {"field": "c", "type": "quantitative", "scale": {"domain": [496, 888], "nice": false, "zero": false},
            "axis": {"values": [500, 520, 540, 560, 580, 600, 620, 640, 660, 680, 700, 720, 740, 760, 780, 800, 820, 840, 860, 880], "labelExpr": "datum.value % 40 == 0 ? datum.label : ''", "title": null, "labelFontWeight": "bold", "labelFontSize": 14, "tickSize": 6, "labelPadding": 4}},
      "y": {"field": "r", "type": "quantitative", "scale": {"domain": [-4, 4], "nice": false},
            "axis": {"values": [-4, -2, 0, 2, 4], "labels": false, "tickSize": 6, "title": null}}
    },
    "layer": [
      {"data": {"name": "rb"}, "mark": {"type": "line", "color": "#111", "strokeWidth": 1.2}},
      {"data": {"values": [{"c": 496, "r": 0}, {"c": 888, "r": 0}]}, "mark": {"type": "line", "color": "#000", "strokeWidth": 2.5}},
      {"data": {"values": [{"c": 730, "r": 3.9, "t": "RSD25"}]}, "mark": {"type": "text", "font": "Liberation Sans", "fontSize": 18, "color": "#000"}, "encoding": {"text": {"field": "t"}}}
    ]
   },
   {"width": 369, "height": 105,
    "encoding": {
      "x": {"field": "c", "type": "quantitative", "scale": {"domain": [496, 767], "nice": false, "zero": false},
            "axis": {"values": [500, 510, 520, 530, 540, 550, 560, 570, 580, 590, 600, 610, 620, 630, 640, 650, 660, 670, 680, 690, 700, 710, 720, 730, 740, 750, 760], "labelExpr": "datum.value % 20 == 0 ? datum.label : ''", "title": null, "labelFontWeight": "bold", "labelFontSize": 14, "tickSize": 6, "labelPadding": 4}},
      "y": {"field": "r", "type": "quantitative", "scale": {"domain": [-4, 4], "nice": false},
            "axis": {"values": [-4, -2, 0, 2, 4], "labels": false, "tickSize": 6, "title": null}}
    },
    "layer": [
      {"data": {"name": "rc"}, "mark": {"type": "line", "color": "#111", "strokeWidth": 1.2}},
      {"data": {"values": [{"c": 496, "r": 0}, {"c": 767, "r": 0}]}, "mark": {"type": "line", "color": "#000", "strokeWidth": 2.5}},
      {"data": {"values": [{"c": 641, "r": 3.9, "t": "RSD25"}]}, "mark": {"type": "text", "font": "Liberation Sans", "fontSize": 18, "color": "#000"}, "encoding": {"text": {"field": "t"}}}
    ]
   }
 ]}
]
}
